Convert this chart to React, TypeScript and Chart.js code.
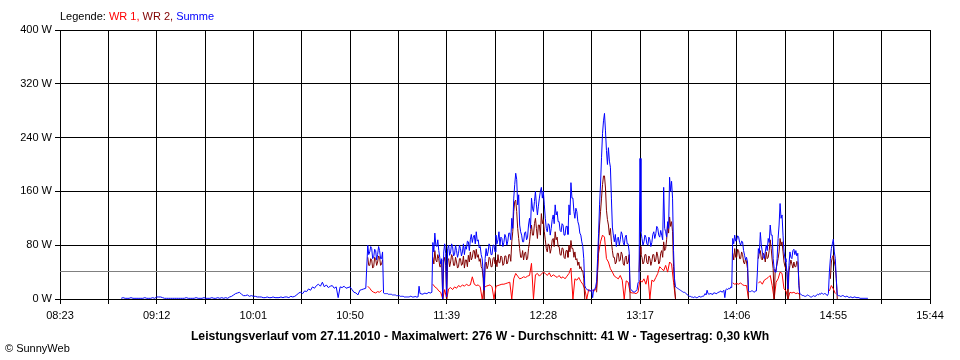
import React, { useEffect, useRef } from 'react';
import { Chart, registerables } from 'chart.js';

Chart.register(...registerables);

// ---- axis / text data ----
const TICK_LABELS = ['08:23', '09:12', '10:01', '10:50', '11:39', '12:28', '13:17', '14:06', '14:55', '15:44'];
const Y_TICKS = [0, 80, 160, 240, 320, 400];
const AVERAGE_W = 41;
const TITLE = 'Leistungsverlauf vom 27.11.2010 - Maximalwert: 276 W - Durchschnitt: 41 W - Tagesertrag: 0,30 kWh';
const COPYRIGHT = '\u00A9 SunnyWeb';
const LEGEND_PARTS: [string, string][] = [
  ['Legende: ', '#000000'],
  ['WR 1, ', '#FF0000'],
  ['WR 2, ', '#800000'],
  ['Summe', '#0000FF'],
];

const N = null;

// ---- Summe: 08:54-10:58, one sample per minute ----
const SUMME_EARLY_START = '08:54';
const SUMME_EARLY_STEP = 1;
const SUMME_EARLY: (number | null)[] = [
  1, 2, 1, 1, 1, 2, 1, 1, 1, 1,
  1, 1, 2, 1, 1, 1, 2, 1, 3, 3,
  3, 2, 1, 1, 1, 1, 1, 1, 1, 1,
  1, 1, 1, 2, 1, 1, 1, 1, 2, 1,
  1, 1, 2, 1, 1, 1, 2, 1, 1, 2,
  1, 2, 1, 2, 1, 3, 4, 6, 8, 9,
  10, 7, 5, 5, 6, 4, 5, 4, 4, 3,
  3, 3, 2, 2, 3, 2, 2, 3, 2, 2,
  2, 3, 2, 3, 3, 2, 4, 3, 4, 6,
  9, 10, 8, 12, 11, 15, 13, 18, 16, 20,
  22, 19, 25, 18, 21, 17, 19, 20, 16, 18,
  2, 18, 17, 19, 16, 17, 18, 14, 10, 9,
  6, 13, 14, 15, 16,
];

// ---- Summe: 10:59-15:12, one sample per 30 s ----
const SUMME_LATE_START = '10:59';
const SUMME_LATE_STEP = 0.5;
const SUMME_LATE: (number | null)[] = [
  80, 66, 70, 78, 75, 60, 62, 74, 72, 58,
  66, 78, 72, 60, 60, 70, 9, 8, 8, 8, 8, 7, 7, 7, 7, 6, 6, 6, 6, 5,
  5, 5, 5, 4, 4, 4, 4, 3, 3, 3, 3, 3, 3, 4, 4, 3, 3, 3, 4, 3,
  3, 3, 19, 8, 8, 7, 7, 8, 9, 8, 8, 9, 10, 9, 9, 10, 84, 70, 98, 80,
  78, 88, 72, 62, 52, 60, 0, 70, 82, 68, 3, 75, 80, 65, 70, 82, 78, 64, 66, 80,
  72, 62, 68, 80, 75, 64, 70, 82, 66, 78, 74, 86, 85, 72, 88, 96, 84, 92, 95, 82,
  100, 86, 88, 76, 78, 66, 60, 40, 13, 60, 75, 64, 70, 82, 78, 66, 66, 80, 80, 70,
  95, 82, 88, 100, 80, 92, 90, 78, 84, 96, 92, 80, 86, 98, 98, 88, 120, 105, 150, 170,
  187, 178, 140, 155, 110, 100, 95, 85, 85, 98, 100, 88, 92, 110, 120, 105, 150, 135, 130, 145,
  160, 140, 125, 138, 150, 160, 166, 150, 160, 140, 120, 105, 100, 112, 110, 95, 105, 118, 125, 112,
  140, 125, 130, 115, 115, 102, 100, 112, 110, 95, 95, 108, 108, 96, 140, 125, 173, 150, 150, 130,
  120, 135, 130, 115, 110, 98, 95, 85, 78, 60, 20, 16, 15, 13, 13, 12, 12, 14, 2, 14,
  14, 18, 26, 60, 97, 140, 171, 210, 246, 265, 276, 250, 221, 200, 225, 205, 196, 150, 107, 95,
  85, 96, 78, 90, 92, 80, 88, 100, 96, 84, 80, 92, 95, 82, 82, 70, 16, 14, 12, 11,
  10, 11, 12, 14, 24, 26, 209, 100, 90, 80, 85, 95, 92, 82, 80, 92, 88, 78, 84, 96,
  100, 90, 97, 108, 105, 95, 92, 102, 95, 88, 166, 105, 100, 92, 115, 105, 181, 160, 175, 150,
  72, 30, 18, 17, 16, 15, 14, 13, 12, 11, 10, 10, 9, 8, 6, 5, 4, 4, 3, 3,
  2, 3, 3, 2, 2, 3, 4, 3, 3, 4, 4, 5, 8, 6, 13, 8, 7, 8, 8, 7,
  8, 9, 9, 8, 8, 10, 10, 11, 12, 10, 11, 13, 2, 14, 15, 14, 16, 15, 18, 17,
  90, 82, 95, 86, 88, 94, 92, 84, 80, 86, 85, 72, 65, 58, 62, 55, 12, 11, 11, 12,
  12, 11, 10, 12, 12, 40, 75, 68, 99, 80, 70, 62, 60, 70, 80, 72, 90, 84, 110, 95,
  95, 60, 45, 40, 40, 60, 90, 110, 142, 120, 125, 95, 70, 60, 55, 40, 15, 50, 70, 62,
  60, 72, 74, 66, 72, 64, 68, 20, 8, 7, 6, 5, 5, 4, 4, 5, 6, 5, 4, 3,
  3, 4, 5, 4, 4, 6, 7, 6, 8, 7, 9, 8, 7, 8, 8, 6, 5, 8, 40, 60,
  75, 82, 89, 70, 60, 30, 6, 5, 5, 4, 4, 5, 5, 4, 3, 4, 4, 3, 2, 3,
  3, 2, 2, 3, 3, 2, 2, 2, 2, 1, 1, 1, 1, 1, 1, 1, 1, 1,
];

// ---- WR 1: from 10:59, one sample per minute ----
const WR1_START = '10:59';
const WR1_STEP = 1;
const WR1: (number | null)[] = [
  19, 16, 12, 10, 9,
  11, 10, 13, N, N, N, N, N, N, N,
  N, N, N, N, N, N, N, N, N, N,
  N, N, N, N, N, N, N, N, 22, 18,
  16, 12, 10, 0, 14, 0, 15, 17, 14, 18,
  16, 20, 18, 21, 19, 22, 20, 21, 33, 22,
  20, 21, 18, 0, 17, 19, 20, 21, 18, 0,
  19, 20, 21, 22, 22, 23, 24, 25, 0, 30,
  38, 34, 30, 31, 33, 32, 34, 35, 53, 0,
  36, 38, 34, 37, 40, 38, 35, 39, 33, 36,
  34, 32, 35, 31, 33, 30, 34, 38, 46, 0,
  30, 28, 32, 26, 22, 15, 0, 14, 12, 13,
  12, 18, 68, 85, 95, 92, 60, 55, 45, 40,
  34, 32, 30, 35, 28, 0, 27, 25, 10, 9,
  9, 8, 10, 28, 25, 30, 22, 35, 0, 28,
  26, 32, 38, 48, 45, 42, 50, 40, 55, 52,
  25, 0, N, N, N, N, N, N, N, N,
  N, N, N, N, N, N, N, N, N, N,
  N, N, N, N, N, N, N, N, N, N,
  24, 22, 23, 22, 24, 21, 20, 20, 0, N,
  N, N, N, 24, 26, 22, 28, 30, 32, 35,
  20, 0, 25, 30, 40, 38, 15, 12, 0, 10,
  9, 10, 8, 9, 6, N, N, N, N, N,
  N, N, N, N, N, N, N, N, N, 12,
  20, 15, 8, N,
];

// ---- WR 2: from 10:59, one sample per 30 s ----
const WR2_START = '10:59';
const WR2_STEP = 0.5;
const WR2: (number | null)[] = [
  62, 50, 50, 60, 58, 46, 48, 62, 60, 50,
  55, 64, 62, 50, 52, 58, N, N, N, N, N, N, N, N, N, N, N, N, N, N,
  N, N, N, N, N, N, N, N, N, N, N, N, N, N, N, N, N, N, N, N,
  N, N, N, N, N, N, N, N, N, N, N, N, N, N, N, N, 62, 52, 72, 58,
  55, 66, 60, 48, 48, 58, 0, 55, 62, 50, 0, 58, 60, 48, 55, 66, 62, 50, 50, 62,
  55, 46, 48, 60, 60, 50, 52, 64, 46, 58, 58, 48, 65, 55, 70, 58, 62, 72, 72, 60,
  74, 62, 66, 56, 60, 48, 45, 30, 0, 52, 55, 45, 50, 62, 60, 48, 48, 60, 62, 52,
  58, 48, 66, 54, 54, 64, 62, 50, 52, 64, 64, 52, 55, 66, 66, 56, 85, 100, 130, 145,
  147, 130, 105, 90, 75, 62, 62, 72, 58, 68, 70, 58, 60, 75, 85, 100, 110, 95, 95, 112,
  120, 105, 90, 110, 110, 95, 127, 112, 118, 100, 88, 75, 70, 82, 80, 68, 75, 88, 90, 78,
  100, 88, 92, 78, 78, 66, 65, 76, 75, 62, 60, 72, 72, 62, 80, 70, 87, 75, 75, 62,
  70, 58, 60, 50, 55, 45, 48, 42, 42, 30, 0, N, N, N, N, N, N, N, N, N,
  N, N, 10, 40, 82, 110, 130, 150, 170, 183, 183, 165, 132, 118, 110, 95, 105, 85, 72, 62,
  62, 52, 55, 68, 68, 56, 58, 70, 66, 52, 50, 62, 64, 52, 55, 66, 0, N, N, N,
  N, N, N, N, N, 40, 78, 66, 62, 52, 55, 66, 66, 54, 52, 64, 60, 50, 56, 66,
  66, 55, 58, 70, 64, 52, 55, 68, 72, 62, 85, 72, 75, 88, 112, 98, 122, 108, 115, 100,
  48, 20, 0, N, N, N, N, N, N, N, N, N, N, N, N, N, N, N, N, N,
  N, N, N, N, N, N, N, N, N, N, N, N, N, N, N, N, N, N, N, N,
  N, N, N, N, N, N, N, N, N, N, N, N, N, N, N, N, N, N, N, N,
  68, 58, 75, 62, 62, 74, 72, 60, 60, 70, 66, 55, 52, 60, 55, 45, 0, N, N, N,
  N, N, N, N, N, N, 60, 70, 72, 60, 58, 68, 65, 55, 70, 60, 62, 72, 88, 75,
  58, 45, 0, 40, 45, 52, 60, 70, 90, 80, 85, 70, 55, 48, 45, 40, 0, 40, 50, 58,
  52, 46, 55, 48, 48, 56, 54, 30, 0, N, N, N, N, N, N, N, N, N, N, N,
  N, N, N, N, N, N, N, N, N, N, N, N, N, N, N, N, N, N, N, 30,
  55, 62, 65, 55, 48, 30, 0, N,
];

const FONT_FAMILY = '"Liberation Sans", Arial, Helvetica, sans-serif';

const toMin = (s: string) => {
  const [h, m] = s.split(':').map(Number);
  return h * 60 + m;
};

const toPoints = (start: string, step: number, values: (number | null)[]) =>
  values.map((v, i) => ({ x: toMin(start) + i * step, y: v }));

const LABEL_MINUTES = TICK_LABELS.map(toMin);
const X_TICKS: number[] = [];
LABEL_MINUTES.forEach((m, i) => {
  X_TICKS.push(m);
  if (i < LABEL_MINUTES.length - 1) X_TICKS.push((m + LABEL_MINUTES[i + 1]) / 2);
});

const textPlugin = {
  id: 'sunnyText',
  beforeDatasetsDraw(chart: any) {
    const { ctx, chartArea, scales } = chart;
    const y = Math.round(scales.y.getPixelForValue(AVERAGE_W)) + 0.5;
    ctx.save();
    ctx.strokeStyle = '#808080';
    ctx.lineWidth = 1;
    ctx.beginPath();
    ctx.moveTo(chartArea.left, y);
    ctx.lineTo(chartArea.right, y);
    ctx.stroke();
    ctx.restore();
  },
  afterDraw(chart: any) {
    const ctx = chart.ctx;
    ctx.save();
    ctx.textBaseline = 'middle';
    ctx.font = `11px ${FONT_FAMILY}`;
    let x = 60;
    for (const [text, color] of LEGEND_PARTS) {
      ctx.fillStyle = color;
      ctx.textAlign = 'left';
      ctx.fillText(text, x, 17);
      x += ctx.measureText(text).width;
    }
    ctx.fillStyle = '#000';
    ctx.font = `bold 12.2px ${FONT_FAMILY}`;
    ctx.textAlign = 'center';
    ctx.fillText(TITLE, 480, 337);
    ctx.font = `11px ${FONT_FAMILY}`;
    ctx.textAlign = 'left';
    ctx.fillText(COPYRIGHT, 5, 349);
    ctx.restore();
  },
};

export default function App() {
  const canvasRef = useRef<HTMLCanvasElement | null>(null);

  useEffect(() => {
    document.body.style.margin = '0';
    const canvas = canvasRef.current;
    if (!canvas) return;
    Chart.defaults.font.family = FONT_FAMILY;
    Chart.defaults.font.size = 11;
    Chart.defaults.color = '#000';

    const summe = [
      ...toPoints(SUMME_EARLY_START, SUMME_EARLY_STEP, SUMME_EARLY),
      ...toPoints(SUMME_LATE_START, SUMME_LATE_STEP, SUMME_LATE),
    ];

    const chart = new Chart(canvas, {
      type: 'line',
      data: {
        datasets: [
          { label: 'Summe', data: summe, borderColor: '#0000FF', order: 0 },
          { label: 'WR 2', data: toPoints(WR2_START, WR2_STEP, WR2), borderColor: '#800000', order: 1 },
          { label: 'WR 1', data: toPoints(WR1_START, WR1_STEP, WR1), borderColor: '#FF0000', order: 2 },
        ],
      },
      options: {
        responsive: false,
        animation: false,
        devicePixelRatio: 1,
        layout: { padding: { left: 0, right: 30, top: 30, bottom: 0 } },
        elements: {
          point: { radius: 0, hoverRadius: 0 },
          line: { borderWidth: 1, tension: 0, fill: false },
        },
        plugins: {
          legend: { display: false },
          tooltip: { enabled: false },
          title: { display: false },
        },
        scales: {
          x: {
            type: 'linear',
            min: LABEL_MINUTES[0],
            max: LABEL_MINUTES[LABEL_MINUTES.length - 1],
            afterBuildTicks: (s: any) => {
              s.ticks = X_TICKS.map((v) => ({ value: v }));
            },
            afterFit: (s: any) => {
              s.height = 61;
            },
            ticks: {
              autoSkip: false,
              maxRotation: 0,
              minRotation: 0,
              padding: 5,
              color: '#000',
              font: { size: 11, family: FONT_FAMILY },
              callback: (v: any) => {
                const idx = LABEL_MINUTES.indexOf(Number(v));
                return idx >= 0 ? TICK_LABELS[idx] : '';
              },
            },
            grid: { color: '#000', lineWidth: 1, tickLength: 5, drawTicks: true },
            border: { color: '#000', width: 1 },
          },
          y: {
            min: 0,
            max: 400,
            afterBuildTicks: (s: any) => {
              s.ticks = Y_TICKS.map((v) => ({ value: v }));
            },
            afterFit: (s: any) => {
              s.width = 60;
            },
            ticks: {
              padding: 3,
              color: '#000',
              font: { size: 11, family: FONT_FAMILY },
              callback: (v: any) => `${v} W`,
            },
            grid: { color: '#000', lineWidth: 1, tickLength: 5, drawTicks: true },
            border: { color: '#000', width: 1 },
          },
        },
      },
      plugins: [textPlugin],
    });

    return () => chart.destroy();
  }, []);

  return (
    <div style={{ width: 960, height: 360, background: '#fff', position: 'relative' }}>
      <canvas ref={canvasRef} width={960} height={360} style={{ display: 'block' }} />
    </div>
  );
}
